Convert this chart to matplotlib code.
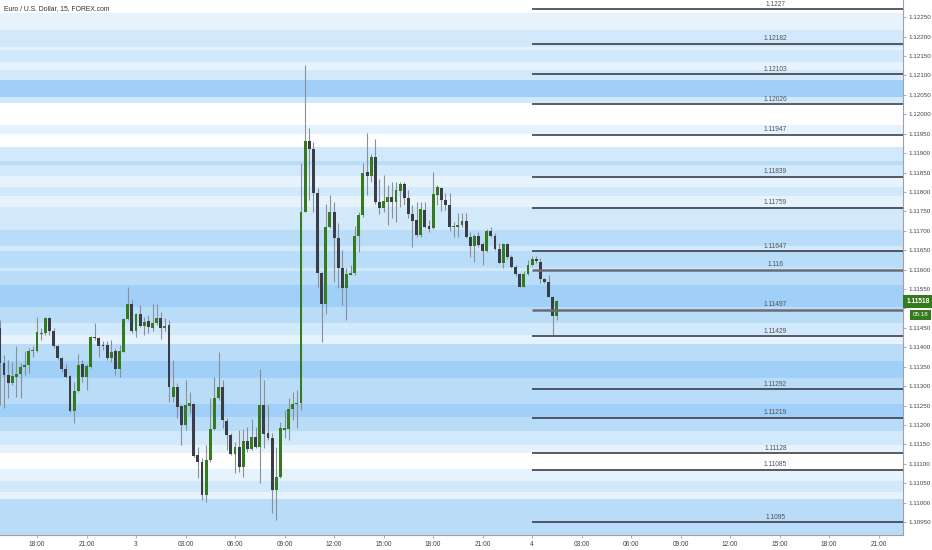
import matplotlib.pyplot as plt
import numpy as np

plt.rcParams['font.family'] = ['Liberation Sans', 'DejaVu Sans']

title = "Euro / U.S. Dollar, 15, FOREX.com"

# 15 min bars, index 0 = 18:00 on the 2nd
first_bar = -9
opens = [
    1.11449, 1.11359, 1.11328, 1.11308, 1.11323, 1.11331, 1.11349, 1.11354, 1.11390,
    1.11390, 1.11434, 1.11437, 1.11475, 1.11443, 1.11403, 1.11372, 1.11344, 1.11326, 1.11236, 1.11287, 1.11357,
    1.11323, 1.11349, 1.11426, 1.11424, 1.11407, 1.11407, 1.11372, 1.11390, 1.11344, 1.11388, 1.11473, 1.11511,
    1.11443, 1.11486, 1.11454, 1.11468, 1.11449, 1.11462, 1.11475, 1.11449, 1.11457, 1.11272, 1.11298, 1.11249,
    1.11200, 1.11249, 1.11254, 1.11123, 1.11105, 1.11020, 1.11110, 1.11190, 1.11269, 1.11298, 1.11210, 1.11174,
    1.11125, 1.11143, 1.11092, 1.11159, 1.11138, 1.11169, 1.11143, 1.11251, 1.11179, 1.11166, 1.11033, 1.11066,
    1.11187, 1.11190, 1.11241, 1.11254, 1.11256, 1.11748, 1.11931, 1.11910, 1.11797, 1.11591, 1.11511, 1.11710,
    1.11748, 1.11681, 1.11604, 1.11552, 1.11586, 1.11591, 1.11686, 1.11740, 1.11851, 1.11841, 1.11890, 1.11774,
    1.11758, 1.11774, 1.11787, 1.11774, 1.11802, 1.11820, 1.11784, 1.11743, 1.11727, 1.11689, 1.11753, 1.11712,
    1.11707, 1.11792, 1.11810, 1.11779, 1.11766, 1.11710, 1.11710, 1.11715, 1.11725, 1.11684, 1.11661, 1.11686,
    1.11666, 1.11648, 1.11699, 1.11686, 1.11654, 1.11617, 1.11666, 1.11632, 1.11607, 1.11588, 1.11555, 1.11588,
    1.11612, 1.11627, 1.11619, 1.11576, 1.11568, 1.11529, 1.11480,
]
highs = [
    1.11470, 1.11380, 1.11367, 1.11362, 1.11403, 1.11359, 1.11390, 1.11398, 1.11403,
    1.11478, 1.11449, 1.11478, 1.11478, 1.11449, 1.11407, 1.11375, 1.11357, 1.11328, 1.11310, 1.11383, 1.11367,
    1.11357, 1.11429, 1.11462, 1.11426, 1.11416, 1.11416, 1.11419, 1.11398, 1.11407, 1.11475, 1.11555, 1.11522,
    1.11488, 1.11509, 1.11478, 1.11483, 1.11511, 1.11511, 1.11491, 1.11475, 1.11470, 1.11367, 1.11308, 1.11251,
    1.11316, 1.11285, 1.11256, 1.11143, 1.11115, 1.11148, 1.11269, 1.11323, 1.11388, 1.11316, 1.11218, 1.11179,
    1.11156, 1.11187, 1.11190, 1.11195, 1.11215, 1.11195, 1.11344, 1.11316, 1.11251, 1.11179, 1.11143, 1.11208,
    1.11238, 1.11269, 1.11285, 1.11290, 1.11874, 1.12126, 1.11964, 1.11928, 1.11810, 1.11594, 1.11769, 1.11792,
    1.11774, 1.11720, 1.11650, 1.11604, 1.11612, 1.11712, 1.11748, 1.11874, 1.11951, 1.11897, 1.11935, 1.11833,
    1.11843, 1.11818, 1.11825, 1.11825, 1.11825, 1.11825, 1.11805, 1.11766, 1.11774, 1.11774, 1.11774, 1.11727,
    1.11851, 1.11818, 1.11812, 1.11797, 1.11797, 1.11723, 1.11745, 1.11745, 1.11745, 1.11697, 1.11691, 1.11697,
    1.11671, 1.11704, 1.11710, 1.11694, 1.11668, 1.11668, 1.11668, 1.11637, 1.11612, 1.11591, 1.11596, 1.11625,
    1.11635, 1.11635, 1.11630, 1.11578, 1.11586, 1.11532, 1.11522,
]
lows = [
    1.11251, 1.11244, 1.11269, 1.11303, 1.11272, 1.11269, 1.11328, 1.11334, 1.11375,
    1.11388, 1.11419, 1.11431, 1.11431, 1.11398, 1.11367, 1.11336, 1.11321, 1.11233, 1.11205, 1.11285, 1.11310,
    1.11290, 1.11347, 1.11419, 1.11375, 1.11393, 1.11367, 1.11362, 1.11328, 1.11323, 1.11388, 1.11470, 1.11437,
    1.11426, 1.11452, 1.11431, 1.11437, 1.11443, 1.11457, 1.11421, 1.11443, 1.11259, 1.11259, 1.11218, 1.11148,
    1.11187, 1.11231, 1.11117, 1.11063, 1.11007, 1.11002, 1.11105, 1.11187, 1.11264, 1.11192, 1.11135, 1.11123,
    1.11076, 1.11079, 1.11066, 1.11130, 1.11135, 1.11141, 1.11051, 1.11141, 1.11161, 1.10973, 1.10955, 1.11063,
    1.11166, 1.11161, 1.11213, 1.11192, 1.11238, 1.11748, 1.11779, 1.11748, 1.11555, 1.11413, 1.11486, 1.11707,
    1.11568, 1.11552, 1.11509, 1.11470, 1.11586, 1.11586, 1.11645, 1.11735, 1.11792, 1.11825, 1.11769, 1.11743,
    1.11748, 1.11715, 1.11733, 1.11723, 1.11761, 1.11766, 1.11733, 1.11658, 1.11684, 1.11684, 1.11707, 1.11697,
    1.11704, 1.11766, 1.11751, 1.11753, 1.11699, 1.11684, 1.11684, 1.11710, 1.11681, 1.11632, 1.11619, 1.11658,
    1.11612, 1.11645, 1.11684, 1.11650, 1.11617, 1.11604, 1.11627, 1.11604, 1.11583, 1.11555, 1.11555, 1.11586,
    1.11609, 1.11617, 1.11565, 1.11565, 1.11529, 1.11431, 1.11470,
]
closes = [
    1.11359, 1.11328, 1.11308, 1.11326, 1.11331, 1.11349, 1.11354, 1.11390, 1.11393,
    1.11439, 1.11437, 1.11475, 1.11443, 1.11403, 1.11372, 1.11344, 1.11323, 1.11236, 1.11287, 1.11354, 1.11323,
    1.11352, 1.11426, 1.11424, 1.11403, 1.11403, 1.11372, 1.11388, 1.11344, 1.11390, 1.11473, 1.11511, 1.11443,
    1.11486, 1.11454, 1.11465, 1.11452, 1.11462, 1.11475, 1.11449, 1.11454, 1.11298, 1.11298, 1.11246, 1.11200,
    1.11251, 1.11256, 1.11120, 1.11105, 1.11020, 1.11110, 1.11190, 1.11269, 1.11298, 1.11213, 1.11174, 1.11125,
    1.11143, 1.11092, 1.11159, 1.11138, 1.11169, 1.11143, 1.11251, 1.11177, 1.11166, 1.11033, 1.11066, 1.11192,
    1.11192, 1.11241, 1.11254, 1.11256, 1.11748, 1.11931, 1.11910, 1.11797, 1.11591, 1.11511, 1.11710, 1.11748,
    1.11681, 1.11604, 1.11552, 1.11588, 1.11591, 1.11686, 1.11740, 1.11849, 1.11841, 1.11890, 1.11774, 1.11758,
    1.11776, 1.11787, 1.11774, 1.11805, 1.11820, 1.11784, 1.11743, 1.11725, 1.11689, 1.11756, 1.11710, 1.11704,
    1.11794, 1.11812, 1.11779, 1.11766, 1.11710, 1.11712, 1.11715, 1.11725, 1.11684, 1.11661, 1.11686, 1.11663,
    1.11648, 1.11699, 1.11686, 1.11654, 1.11617, 1.11666, 1.11632, 1.11607, 1.11588, 1.11555, 1.11588, 1.11612,
    1.11627, 1.11622, 1.11576, 1.11568, 1.11529, 1.11480, 1.11518,
]

# horizontal levels drawn from the start of the 4th
levels = [1.1227, 1.12182, 1.12103, 1.12026, 1.11947, 1.11839, 1.11759, 1.11647,
          1.116, 1.11497, 1.11429, 1.11292, 1.11219, 1.11128, 1.11085, 1.1095]
level_start = 120

# background heat bands (price edges, top to bottom) and shade index
band_edges = [1.12294, 1.12260, 1.12217, 1.12173, 1.12165, 1.12134, 1.12114, 1.12088,
              1.12044, 1.12029, 1.11972, 1.11949, 1.11915, 1.11879, 1.11869, 1.11841,
              1.11812, 1.11789, 1.11761, 1.11702, 1.11661, 1.11648, 1.11604, 1.11596,
              1.11560, 1.11534, 1.11504, 1.11493, 1.11462, 1.11431, 1.11408, 1.11365,
              1.11321, 1.11292, 1.11254, 1.11220, 1.11184, 1.11148, 1.11128, 1.11087,
              1.11056, 1.11027, 1.11009, 1.10917]
band_shades = [0, 1, 2, 1, 2, 1, 2, 4, 2, 0, 1, 0, 2, 3, 2, 1, 2, 1, 2, 3,
               2, 3, 2, 3, 4, 4, 3, 3, 2, 1, 3, 4, 3, 3, 4, 3, 2, 1, 0, 1,
               2, 1, 3]
shade_colors = ['#ffffff', '#e6f3fd', '#d2e9fc', '#b9ddf9', '#a0cff7']

xtick_pos = [0, 12, 24, 36, 48, 60, 72, 84, 96, 108, 120, 132, 144, 156, 168, 180, 192, 204]
xtick_labels = ['18:00', '21:00', '3', '03:00', '06:00', '09:00', '12:00', '15:00', '18:00',
                '21:00', '4', '03:00', '06:00', '09:00', '12:00', '15:00', '18:00', '21:00']
countdown = '05:18'

up_col = '#357a1c'
down_col = '#3a3d45'
wick_col = '#8c9096'

fig = plt.figure(figsize=(9.32, 5.5), dpi=100)
ax = fig.add_axes([0, 15 / 550, 903 / 932, 535 / 550])

x0, x1 = -8.97, 209.9
ax.set_xlim(x0, x1)
ax.set_ylim(band_edges[-1], band_edges[0])

for i, s in enumerate(band_shades):
    ax.axhspan(band_edges[i + 1], band_edges[i], color=shade_colors[s], lw=0, zorder=0)

# candles
o = np.array(opens)
h = np.array(highs)
l = np.array(lows)
c = np.array(closes)
x = np.arange(first_bar, first_bar + len(o))
up = c >= o
ax.vlines(x, l, h, color=wick_col, lw=0.8, zorder=2)
body_lo = np.minimum(o, c)
body_h = np.maximum(np.abs(c - o), 0.000012)
ax.bar(x[up], body_h[up], bottom=body_lo[up], width=0.7, color=up_col, zorder=3)
ax.bar(x[~up], body_h[~up], bottom=body_lo[~up], width=0.7, color=down_col, zorder=3)

# levels
for lv in levels:
    thick = lv in (1.116, 1.11497)
    ax.hlines(lv, level_start, x1, color='#6a6d73' if thick else '#2e3138',
              lw=1.8 if thick else 1.1, zorder=4)
    ax.annotate(str(lv), (179, lv), xytext=(0, 1), textcoords='offset points',
                ha='center', va='bottom', fontsize=4.8, color='#50535a', zorder=5)

# axes styling
for sp in ['top', 'left']:
    ax.spines[sp].set_visible(False)
ax.spines['right'].set_color('#9ea1a8')
ax.spines['bottom'].set_color('#9ea1a8')
ax.yaxis.tick_right()
yt = np.round(np.arange(1.1095, 1.12251, 0.0005), 5)
ax.set_yticks(yt)
ax.set_yticklabels(['' if abs(v - closes[-1]) < 0.0003 else '%.5f' % v for v in yt])
ax.set_xticks(xtick_pos)
ax.set_xticklabels(xtick_labels)
ax.tick_params(axis='x', labelsize=4.8, colors='#9ea1a8', labelcolor='#444',
               length=2.5, width=0.6, pad=2)
ax.tick_params(axis='y', labelsize=4.5, colors='#9ea1a8', labelcolor='#444',
               length=2.5, width=0.6, pad=1.2)

# last price tag
ax.annotate('%.5f' % closes[-1], (1.0, closes[-1]), xycoords=ax.get_yaxis_transform(),
            xytext=(2.5, 0), textcoords='offset points',
            ha='left', va='center', fontsize=4.8, color='white', fontweight='bold',
            bbox=dict(boxstyle='square,pad=0.5', fc=up_col, ec='none'),
            annotation_clip=False, zorder=6)
ax.annotate(countdown, (1.0, closes[-1]), xycoords=ax.get_yaxis_transform(),
            xytext=(7, -9.5), textcoords='offset points', ha='left', va='center',
            fontsize=4.5, color='white',
            bbox=dict(boxstyle='square,pad=0.4', fc=up_col, ec='none'), annotation_clip=False)

fig.text(4 / 932, 1 - 9 / 550, title, fontsize=4.9, color='#333', va='center', ha='left')

fig.savefig('out.png', dpi=100)
